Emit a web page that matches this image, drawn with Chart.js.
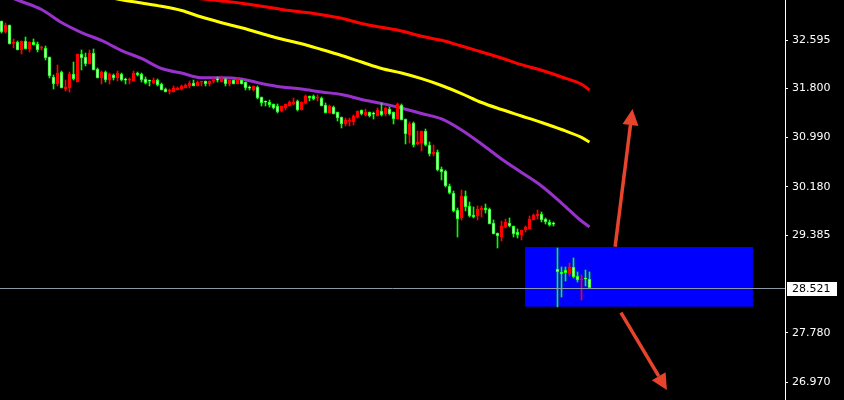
<!DOCTYPE html>
<html>
<head>
<meta charset="utf-8">
<script src="https://cdn.jsdelivr.net/npm/chart.js@4/dist/chart.umd.min.js"></script>
<style>
  html, body { margin: 0; padding: 0; background: #000; }
  canvas { display: block; }
</style>
</head>
<body>
<canvas id="c" width="844" height="400"></canvas>
<script>
// Candle prices, one entry per bar (oldest first)
const open = [
  32.908, 32.727, 32.842, 32.540, 32.562, 32.431, 32.579, 32.447, 32.562, 32.529,
  32.460, 32.464, 32.316, 31.987, 31.872, 32.069, 31.789, 31.806, 32.036, 31.904,
  32.365, 32.316, 32.200, 32.381, 32.118, 31.970, 32.069, 31.937, 32.020, 31.970,
  32.036, 31.940, 31.935, 31.921, 32.052, 32.036, 31.954, 31.924, 31.888, 31.937,
  31.872, 31.789, 31.753, 31.740, 31.773, 31.789, 31.806, 31.839, 31.888, 31.839,
  31.902, 31.921, 31.872, 31.919, 31.940, 31.904, 31.954, 31.872, 31.937, 31.872,
  31.937, 31.904, 31.808, 31.773, 31.822, 31.658, 31.578, 31.576, 31.543, 31.510,
  31.427, 31.477, 31.510, 31.543, 31.592, 31.444, 31.559, 31.674, 31.674, 31.639,
  31.641, 31.526, 31.395, 31.493, 31.411, 31.329, 31.214, 31.261, 31.247, 31.329,
  31.444, 31.362, 31.411, 31.380, 31.345, 31.427, 31.378, 31.460, 31.411, 31.296,
  31.526, 31.296, 31.033, 31.230, 30.885, 30.901, 31.099, 30.868, 30.720, 30.753,
  30.474, 30.441, 30.194, 30.079, 29.799, 29.668, 30.030, 29.865, 29.717, 29.701,
  29.799, 29.832, 29.816, 29.585, 29.421, 29.355, 29.520, 29.585, 29.536, 29.437,
  29.388, 29.470, 29.487, 29.635, 29.701, 29.733, 29.651, 29.602, 29.571, 28.829,
  28.780, 28.812, 28.747, 28.862, 28.714, 28.648, 28.666, 28.664
];
const high = [
  32.908, 32.875, 32.842, 32.612, 32.579, 32.579, 32.644, 32.562, 32.612, 32.562,
  32.496, 32.496, 32.316, 32.020, 32.184, 32.085, 31.937, 32.069, 32.233, 32.365,
  32.431, 32.381, 32.431, 32.447, 32.135, 32.085, 32.085, 32.052, 32.036, 32.085,
  32.052, 31.970, 31.970, 32.085, 32.069, 32.052, 31.987, 31.937, 31.970, 31.954,
  31.888, 31.806, 31.789, 31.839, 31.822, 31.855, 31.872, 31.921, 31.937, 31.921,
  31.906, 31.921, 31.921, 31.970, 31.987, 32.003, 31.970, 31.937, 31.937, 31.970,
  31.937, 31.904, 31.839, 31.839, 31.839, 31.658, 31.592, 31.608, 31.543, 31.543,
  31.510, 31.543, 31.592, 31.641, 31.608, 31.576, 31.691, 31.674, 31.691, 31.691,
  31.658, 31.559, 31.526, 31.510, 31.411, 31.329, 31.312, 31.312, 31.362, 31.427,
  31.444, 31.460, 31.411, 31.411, 31.477, 31.559, 31.493, 31.493, 31.411, 31.559,
  31.543, 31.296, 31.247, 31.247, 31.099, 31.099, 31.131, 30.918, 30.868, 30.786,
  30.506, 30.457, 30.227, 30.112, 29.832, 30.128, 30.112, 29.931, 29.849, 29.865,
  29.865, 29.898, 29.832, 29.635, 29.421, 29.618, 29.651, 29.668, 29.536, 29.487,
  29.470, 29.536, 29.701, 29.733, 29.799, 29.766, 29.668, 29.635, 29.602, 29.174,
  28.862, 28.862, 28.928, 29.010, 28.780, 28.730, 28.812, 28.780
];
const low = [
  32.710, 32.710, 32.529, 32.464, 32.431, 32.365, 32.447, 32.398, 32.513, 32.398,
  32.431, 32.266, 31.970, 31.789, 31.839, 31.806, 31.756, 31.740, 31.937, 31.904,
  32.102, 32.168, 32.200, 32.102, 31.970, 31.872, 31.904, 31.872, 31.937, 31.921,
  31.921, 31.872, 31.872, 31.921, 32.003, 31.904, 31.872, 31.839, 31.872, 31.839,
  31.773, 31.740, 31.707, 31.740, 31.773, 31.773, 31.806, 31.806, 31.839, 31.839,
  31.839, 31.839, 31.839, 31.888, 31.904, 31.904, 31.839, 31.839, 31.872, 31.872,
  31.872, 31.773, 31.773, 31.756, 31.625, 31.510, 31.510, 31.493, 31.460, 31.395,
  31.411, 31.444, 31.510, 31.526, 31.427, 31.444, 31.543, 31.592, 31.608, 31.592,
  31.510, 31.395, 31.395, 31.378, 31.263, 31.148, 31.181, 31.181, 31.197, 31.312,
  31.362, 31.345, 31.329, 31.296, 31.345, 31.345, 31.345, 31.362, 31.214, 31.296,
  31.279, 30.885, 30.901, 30.835, 30.868, 30.770, 30.852, 30.687, 30.687, 30.441,
  30.293, 30.178, 30.062, 29.766, 29.355, 29.635, 29.783, 29.684, 29.668, 29.635,
  29.684, 29.750, 29.569, 29.405, 29.174, 29.289, 29.503, 29.520, 29.355, 29.339,
  29.306, 29.437, 29.487, 29.635, 29.651, 29.602, 29.569, 29.536, 29.536, 28.204,
  28.368, 28.631, 28.714, 28.681, 28.615, 28.319, 28.549, 28.521
];
const close = [
  32.727, 32.842, 32.529, 32.562, 32.431, 32.579, 32.447, 32.562, 32.513, 32.431,
  32.466, 32.299, 32.003, 31.872, 32.052, 31.806, 31.822, 32.036, 31.954, 32.365,
  32.299, 32.200, 32.381, 32.102, 31.970, 32.069, 31.937, 32.036, 31.970, 32.052,
  31.937, 31.935, 31.940, 32.052, 32.020, 31.937, 31.888, 31.919, 31.937, 31.855,
  31.773, 31.740, 31.758, 31.806, 31.806, 31.839, 31.855, 31.888, 31.839, 31.904,
  31.906, 31.872, 31.921, 31.923, 31.935, 31.954, 31.872, 31.937, 31.872, 31.937,
  31.872, 31.806, 31.804, 31.839, 31.641, 31.559, 31.574, 31.526, 31.477, 31.411,
  31.510, 31.543, 31.576, 31.576, 31.444, 31.576, 31.674, 31.641, 31.625, 31.643,
  31.510, 31.395, 31.510, 31.378, 31.312, 31.214, 31.279, 31.265, 31.345, 31.427,
  31.378, 31.411, 31.345, 31.376, 31.444, 31.362, 31.477, 31.378, 31.296, 31.543,
  31.279, 31.049, 31.214, 30.868, 30.918, 31.099, 30.868, 30.720, 30.753, 30.457,
  30.424, 30.194, 30.079, 29.783, 29.651, 30.030, 29.849, 29.701, 29.684, 29.816,
  29.832, 29.799, 29.569, 29.405, 29.372, 29.536, 29.602, 29.536, 29.405, 29.388,
  29.470, 29.520, 29.651, 29.717, 29.733, 29.635, 29.602, 29.553, 29.567, 28.780,
  28.747, 28.763, 28.862, 28.697, 28.648, 28.664, 28.662, 28.521
];

// Moving averages, sampled at these bar indices
const maIndex = [0, 5, 10, 15, 20, 25, 30, 35, 40, 45, 50, 55, 60, 65, 70, 75, 80, 85, 90, 95,
                 100, 105, 110, 115, 120, 125, 130, 135, 140, 145, 147];
const maPurple = [33.352, 33.228, 33.097, 32.883, 32.718, 32.587, 32.422, 32.291, 32.126, 32.052,
                  31.975, 31.975, 31.954, 31.880, 31.822, 31.789, 31.740, 31.699, 31.617, 31.551,
                  31.477, 31.386, 31.296, 31.115, 30.885, 30.638, 30.416, 30.194, 29.914, 29.618, 29.520];
const maYellow = [null, null, null, null, null, 33.319, 33.258, 33.204, 33.149, 33.080,
                  32.973, 32.880, 32.796, 32.702, 32.612, 32.534, 32.439, 32.340, 32.233, 32.126,
                  32.052, 31.959, 31.847, 31.715, 31.567, 31.452, 31.345, 31.238, 31.123, 30.992, 30.918];
const maRed = [null, null, null, null, null, null, null, null, null, 33.319,
               33.273, 33.238, 33.200, 33.151, 33.098, 33.056, 33.011, 32.952, 32.867, 32.804,
               32.743, 32.656, 32.590, 32.496, 32.398, 32.299, 32.189, 32.097, 31.987, 31.867, 31.773];

// Price axis labels
const priceTicks = [32.595, 31.800, 30.990, 30.180, 29.385, 27.780, 26.970];
const lastPrice = 28.521;

// Highlighted zone (bar index range, price range) and the two direction arrows
const zone = { from: 130.9, to: 187.85, top: 29.191, bottom: 28.209 };
const arrows = [
  { from: [153.4, 29.196], to: [157.75, 31.460] },
  { from: [154.85, 28.110], to: [166.35, 26.839] }
];

const BULL = '#ff0000';
const BEAR = '#00ff00';
const BEAR_FILL = '#f4fff4';

const idx = open.map((_, i) => i);
const isBear = idx.map(i => close[i] < open[i]);

const wickData = idx.map(i => ({ x: i, y: [low[i], high[i]] }));
const bodyData = idx.map(i => ({ x: i, y: [open[i], close[i]] }));

function maPoints(arr) {
  const pts = [];
  arr.forEach((v, k) => { if (v !== null) pts.push({ x: maIndex[k], y: v }); });
  return pts;
}

const overlays = {
  id: 'overlays',
  beforeDatasetsDraw(chart) {
    const { ctx, chartArea: a, scales: { x, y } } = chart;
    ctx.save();
    ctx.beginPath();
    ctx.rect(a.left, a.top, a.right - a.left, a.bottom - a.top);
    ctx.clip();
    const x0 = x.getPixelForValue(zone.from), x1 = x.getPixelForValue(zone.to);
    const y0 = y.getPixelForValue(zone.top), y1 = y.getPixelForValue(zone.bottom);
    ctx.fillStyle = '#0000ff';
    ctx.fillRect(x0, y0, x1 - x0, y1 - y0);
    ctx.restore();
  },
  afterDatasetsDraw(chart) {
    const { ctx, chartArea: a, scales: { x, y } } = chart;
    ctx.save();
    // current price line
    const py = Math.round(y.getPixelForValue(lastPrice)) + 0.5;
    ctx.strokeStyle = '#8c9aa8';
    ctx.lineWidth = 1;
    ctx.beginPath();
    ctx.moveTo(a.left, py);
    ctx.lineTo(a.right, py);
    ctx.stroke();
    // arrows
    ctx.strokeStyle = '#e8432c';
    ctx.fillStyle = '#e8432c';
    arrows.forEach(ar => {
      const sx = x.getPixelForValue(ar.from[0]), sy = y.getPixelForValue(ar.from[1]);
      const tx = x.getPixelForValue(ar.to[0]), ty = y.getPixelForValue(ar.to[1]);
      const ang = Math.atan2(ty - sy, tx - sx);
      const headLen = 16, headHalf = 8;
      const bx = tx - headLen * Math.cos(ang), by = ty - headLen * Math.sin(ang);
      ctx.lineWidth = 3.5;
      ctx.beginPath();
      ctx.moveTo(sx, sy);
      ctx.lineTo(bx, by);
      ctx.stroke();
      ctx.beginPath();
      ctx.moveTo(tx, ty);
      ctx.lineTo(bx + headHalf * Math.sin(ang), by - headHalf * Math.cos(ang));
      ctx.lineTo(bx - headHalf * Math.sin(ang), by + headHalf * Math.cos(ang));
      ctx.closePath();
      ctx.fill();
    });
    ctx.restore();
  },
  afterDraw(chart) {
    const { ctx, chartArea: a, scales: { y } } = chart;
    const py = Math.round(y.getPixelForValue(lastPrice));
    ctx.save();
    ctx.fillStyle = '#ffffff';
    ctx.fillRect(a.right + 2, py - 6, 50, 14);
    ctx.fillStyle = '#000000';
    ctx.font = '11px "DejaVu Sans"';
    ctx.textBaseline = 'middle';
    ctx.textAlign = 'left';
    ctx.fillText(lastPrice.toFixed(3), a.right + 7, py + 1);
    ctx.restore();
  }
};

new Chart(document.getElementById('c'), {
  type: 'bar',
  data: {
    datasets: [
      {
        type: 'bar', data: bodyData, grouped: false, order: 0,
        barThickness: 3, minBarLength: 1, borderWidth: 1, borderSkipped: false,
        backgroundColor: idx.map(i => isBear[i] ? BEAR_FILL : BULL),
        borderColor: idx.map(i => isBear[i] ? BEAR : BULL)
      },
      {
        type: 'bar', data: wickData, grouped: false, order: 1,
        barThickness: 1, borderWidth: 0,
        backgroundColor: idx.map(i => isBear[i] ? BEAR : BULL)
      },
      { type: 'line', data: maPoints(maPurple), order: 2, borderColor: '#9932cc', borderWidth: 3,
        pointRadius: 0, cubicInterpolationMode: 'monotone', fill: false },
      { type: 'line', data: maPoints(maYellow), order: 2, borderColor: '#ffff00', borderWidth: 3,
        pointRadius: 0, cubicInterpolationMode: 'monotone', fill: false },
      { type: 'line', data: maPoints(maRed), order: 2, borderColor: '#ff0000', borderWidth: 3,
        pointRadius: 0, cubicInterpolationMode: 'monotone', fill: false }
    ]
  },
  options: {
    responsive: false,
    animation: false,
    events: [],
    layout: { padding: 0 },
    plugins: { legend: { display: false }, tooltip: { enabled: false } },
    scales: {
      x: {
        type: 'linear', display: false, offset: false,
        min: -0.375, max: 195.875,
        grid: { display: false }
      },
      y: {
        position: 'right',
        min: 26.674, max: 33.253,
        afterFit(s) { s.width = 59; s.paddingTop = 0; s.paddingBottom = 0; },
        afterBuildTicks(s) { s.ticks = priceTicks.map(v => ({ value: v })); },
        border: { display: true, color: '#ffffff', width: 1 },
        grid: { display: true, drawOnChartArea: false, drawTicks: true, tickLength: 3, color: '#ffffff' },
        ticks: {
          color: '#ffffff', padding: 4,
          font: { family: 'DejaVu Sans', size: 11 },
          callback: v => Number(v).toFixed(3)
        }
      }
    }
  },
  plugins: [overlays]
});
</script>
</body>
</html>
